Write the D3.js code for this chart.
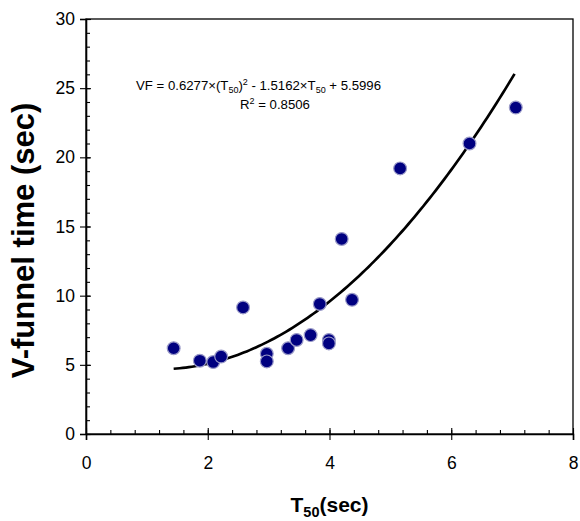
<!DOCTYPE html>
<html>
<head>
<meta charset="utf-8">
<script src="https://cdn.jsdelivr.net/npm/d3@7"></script>
<style>
  body { margin: 0; background: #fff; }
  text { font-family: "Liberation Sans", Arial, sans-serif; }
</style>
</head>
<body>
<div id="chart"></div>
<script>
// T50 (sec) and V-funnel time (sec)
const t50 = [1.44, 1.87, 2.09, 2.22, 2.58, 2.97, 2.97, 3.32, 3.46, 3.69, 3.84, 3.99, 3.99, 4.20, 4.37, 5.16, 6.30, 7.06];
const vf  = [6.2, 5.3, 5.2, 5.6, 9.15, 5.8, 5.25, 6.2, 6.8, 7.15, 9.4, 6.8, 6.55, 14.1, 9.7, 19.2, 21.0, 23.6];

// trendline coefficients as printed on the chart (a*x^2 + b*x + c)
const fitCoef = [0.6277, -1.5162, 5.5996];
const fitRange = [1.44, 7.05];

const xTicks = [0, 2, 4, 6, 8];
const yTicks = [0, 5, 10, 15, 20, 25, 30];

const margin = {top: 19, right: 7, bottom: 87, left: 86},
    width = 580 - margin.left - margin.right,
    height = 521 - margin.top - margin.bottom;

const svg = d3.select("#chart")
    .append("svg")
    .attr("width", 580)
    .attr("height", 521)
    .append("g")
    .attr("transform", `translate(${margin.left},${margin.top})`);

const xScale = d3.scaleLinear().domain([0, 8]).range([0, width]);
const yScale = d3.scaleLinear().domain([0, 30]).range([height, 0]);

// box
svg.append("rect")
    .attr("width", width)
    .attr("height", height)
    .attr("fill", "none")
    .attr("stroke", "#000")
    .attr("stroke-width", 1.3);

// minor ticks (inside)
svg.append("g")
    .attr("transform", `translate(0,${height})`)
    .call(d3.axisTop(xScale).tickValues(d3.range(0, 8.01, 0.4)).tickSize(4).tickFormat(""))
    .call(g => g.select(".domain").remove());
svg.append("g")
    .call(d3.axisRight(yScale).tickValues(d3.range(0, 30.01, 1)).tickSize(4).tickFormat(""))
    .call(g => g.select(".domain").remove());

// major ticks crossing the axis
svg.append("g")
    .attr("transform", `translate(0,${height})`)
    .call(d3.axisTop(xScale).tickValues(xTicks).tickSize(6).tickFormat(""))
    .call(g => g.select(".domain").remove());
svg.append("g")
    .call(d3.axisRight(yScale).tickValues(yTicks).tickSize(5).tickFormat(""))
    .call(g => g.select(".domain").remove());

const xAxis = svg.append("g")
    .attr("transform", `translate(0,${height})`)
    .call(d3.axisBottom(xScale).tickValues(xTicks).tickSize(6).tickPadding(17));
const yAxis = svg.append("g")
    .call(d3.axisLeft(yScale).tickValues(yTicks).tickSize(6).tickPadding(5));

[xAxis, yAxis].forEach(a => {
    a.select(".domain").attr("stroke-width", 1.6);
    a.selectAll("text").attr("font-size", 17.5).attr("fill", "#000")
        .style("font-family", "'Liberation Sans', Arial, sans-serif");
});
svg.selectAll(".tick line").attr("stroke", "#000").attr("stroke-width", 1.1);

// trendline
const fx = x => fitCoef[0] * x * x + fitCoef[1] * x + fitCoef[2];
const fitPts = d3.range(fitRange[0], fitRange[1] + 0.001, 0.05).map(x => [x, fx(x)]);
svg.append("path")
    .datum(fitPts)
    .attr("fill", "none")
    .attr("stroke", "#000")
    .attr("stroke-width", 2.7)
    .attr("d", d3.line().x(d => xScale(d[0])).y(d => yScale(d[1])));

// points
svg.selectAll(".pt")
    .data(t50.map((d, i) => [d, vf[i]]))
    .enter().append("circle")
    .attr("class", "pt")
    .attr("cx", d => xScale(d[0]))
    .attr("cy", d => yScale(d[1]))
    .attr("r", 6.4)
    .attr("fill", "#000080")
    .attr("stroke", "#9a9ac8")
    .attr("stroke-width", 1.2);

// equation
const eq = svg.append("text")
    .attr("x", 50)
    .attr("y", 71)
    .attr("font-size", 13.2);
eq.append("tspan").text("VF = 0.6277×(T");
eq.append("tspan").text("50").attr("font-size", 9).attr("dy", 3);
eq.append("tspan").text(")").attr("dy", -3);
eq.append("tspan").text("2").attr("font-size", 9).attr("dy", -5);
eq.append("tspan").text(" - 1.5162×T").attr("dy", 5);
eq.append("tspan").text("50").attr("font-size", 9).attr("dy", 3);
eq.append("tspan").text(" + 5.5996").attr("dy", -3);

const r2 = svg.append("text")
    .attr("x", 154)
    .attr("y", 90)
    .attr("font-size", 13.2);
r2.append("tspan").text("R");
r2.append("tspan").text("2").attr("font-size", 9).attr("dy", -5);
r2.append("tspan").text(" = 0.8506").attr("dy", 5);

// axis titles
const xt = svg.append("text")
    .attr("x", width / 2)
    .attr("y", height + 78)
    .attr("text-anchor", "middle")
    .attr("font-weight", "bold")
    .attr("font-size", 21);
xt.append("tspan").text("T");
xt.append("tspan").text("50").attr("font-size", 14.5).attr("dy", 5);
xt.append("tspan").text("(sec)").attr("dy", -5);

svg.append("text")
    .attr("transform", `translate(${-52},${height / 2 + 14}) rotate(-90)`)
    .attr("text-anchor", "middle")
    .attr("font-weight", "bold")
    .attr("font-size", 31)
    .text("V-funnel time (sec)");
</script>
</body>
</html>
